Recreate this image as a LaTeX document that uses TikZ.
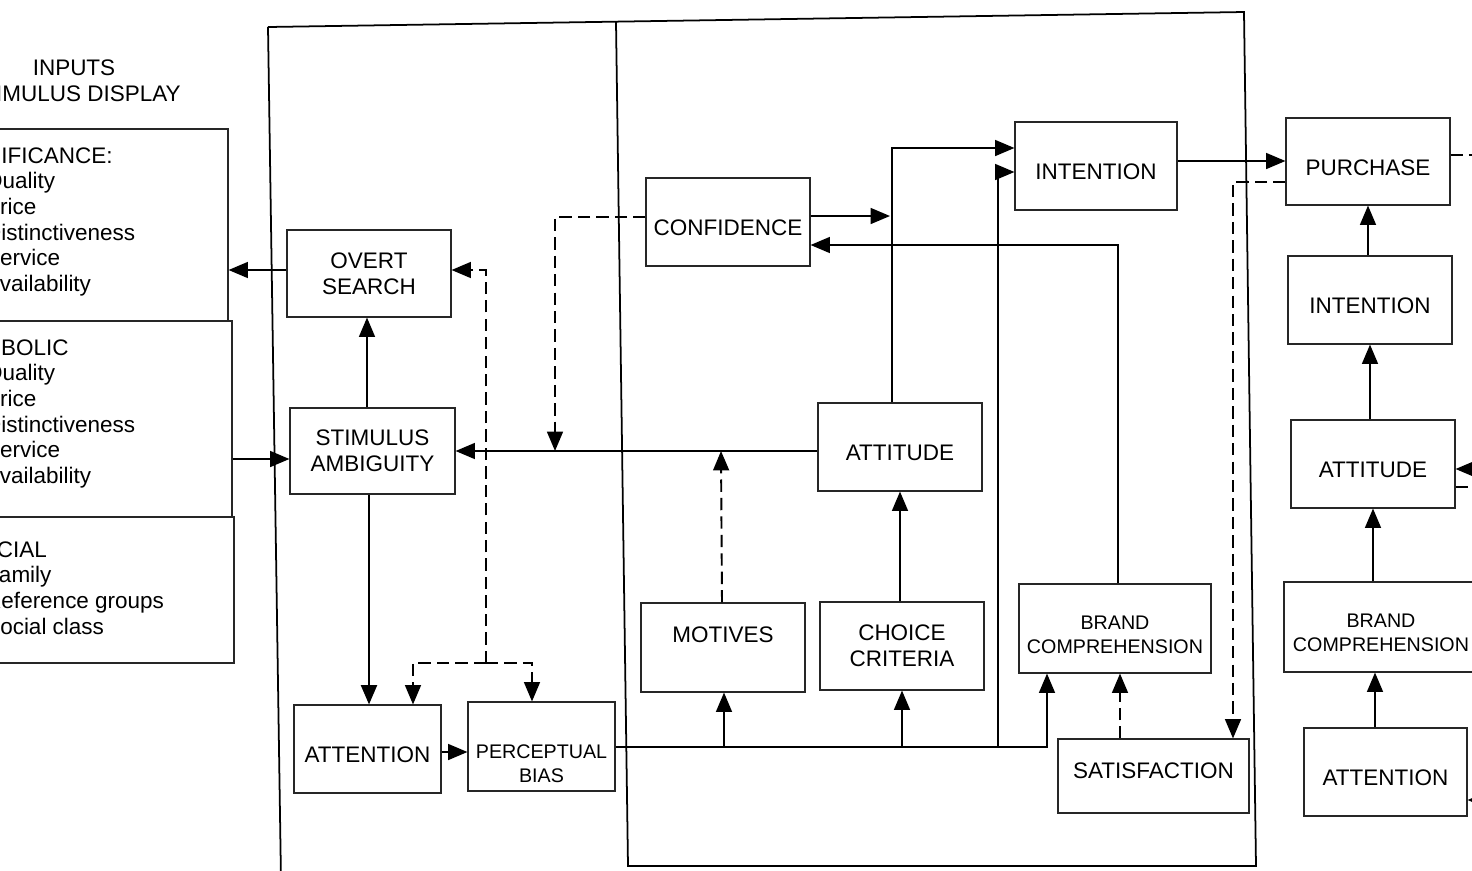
\documentclass[tikz,border=0pt]{standalone}
\usepackage{fontspec}
\setmainfont{Liberation Sans}
\usetikzlibrary{arrows.meta}
\newcommand\bigtxt{\fontsize{12.8}{14.6}\selectfont}
\newcommand\smalltxt{\fontsize{11.2}{13.6}\selectfont}
% struts that set the text a little lower (or higher) inside its box
\newcommand\lowbig{\rule{0pt}{15.5pt}}
\newcommand\lowsmall{\rule{0pt}{14.5pt}}
\newcommand\highbig{\rule[-5.6pt]{0pt}{5.6pt}}

\begin{document}
\begin{tikzpicture}[x=0.02cm, y=-0.02cm,
  box/.style 2 args={draw=black!85, line width=0.6pt, minimum width=#1*0.02cm,
    minimum height=#2*0.02cm, inner sep=0pt, align=center, font=\bigtxt},
  lbl/.style={inner sep=0pt, align=center, font=\bigtxt},
  inlist/.style={inner sep=0pt, align=left, anchor=north west, font=\bigtxt},
  arr/.style={draw, line width=1.1pt, -{Triangle[length=11pt,width=9pt]}},
  darr/.style={arr, dash pattern=on 7pt off 3.5pt},
  dline/.style={draw, line width=1.1pt, dash pattern=on 7pt off 3.5pt},
  frame/.style={draw, line width=1pt},
]
\useasboundingbox (0,0) rectangle (1472,870);
\clip (0,0) rectangle (1472,870);

% outer frames of the model
\draw[frame] (268,27) -- (1244,12) -- (1256,866) -- (628,866) -- (616,22);
\draw[frame] (268,27) -- (281,880);

% input panel
\node[lbl] (inhead) at (74,80.5) {INPUTS\\STIMULUS DISPLAY};
\node[box={400}{192}] (in1) at (28,225) {};
\node[box={400}{196}] (in2) at (32,419) {};
\node[box={400}{146}] (in3) at (34,590) {};
\node[inlist] (sigtxt) at (-54,147) {SIGNIFICANCE:\\\hspace*{22.1pt}Quality\\\hspace*{22.1pt}Price\\
  \hspace*{22.1pt}Distinctiveness\\\hspace*{22.1pt}Service\\\hspace*{22.1pt}Availability};
\node[inlist] (symtxt) at (-48,339) {SYMBOLIC\\\hspace*{18.7pt}Quality\\\hspace*{18.7pt}Price\\
  \hspace*{18.7pt}Distinctiveness\\\hspace*{18.7pt}Service\\\hspace*{18.7pt}Availability};
\node[inlist] (soctxt) at (-36,541) {SOCIAL\\\hspace*{11.9pt}Family\\\hspace*{11.9pt}Reference groups\\
  \hspace*{11.9pt}Social class};

% perceptual constructs
\node[box={164}{87}] (ovs) at (369,273.5) {OVERT\\SEARCH};
\node[box={165}{86}] (amb) at (372.5,451) {STIMULUS\\AMBIGUITY};
\node[box={147}{88}] (att1) at (367.5,749) {\lowbig ATTENTION};
\node[box={147}{89}] (perc) at (541.5,746.5) {};
\node[lbl,font=\smalltxt] (perctxt) at (541.5,763.5) {PERCEPTUAL\\BIAS};

% learning constructs
\node[box={164}{88}] (conf) at (728,222) {\lowbig CONFIDENCE};
\node[box={164}{89}] (mot) at (723,647.5) {};
\node[lbl] (mottxt) at (723,635) {MOTIVES};
\node[box={164}{88}] (cc) at (902,646) {CHOICE\\CRITERIA};
\node[box={164}{88}] (att2) at (900,447) {\lowbig ATTITUDE};
\node[box={162}{88}] (int1) at (1096,166) {\lowbig INTENTION};
\node[box={192}{89},font=\smalltxt] (bc1) at (1115,628.5) {\lowsmall BRAND\\COMPREHENSION};
\node[box={191}{74}] (sat) at (1153.5,776) {\highbig SATISFACTION};

% outputs
\node[box={164}{87}] (pur) at (1368,161.5) {\lowbig PURCHASE};
\node[box={164}{88}] (int2) at (1370,300) {\lowbig INTENTION};
\node[box={164}{88}] (att3) at (1373,464) {\lowbig ATTITUDE};
\node[box={194}{90},font=\smalltxt] (bc2) at (1381,627) {\lowsmall BRAND\\COMPREHENSION};
\node[box={163}{88}] (att4) at (1385.5,772) {\lowbig ATTENTION};

% junction points
\coordinate (dj) at (486,663);
\coordinate (cj) at (555,451);
\coordinate (mj) at (721,451);
\coordinate (ca) at (890,216);
\coordinate (b1) at (724,747);
\coordinate (b2) at (902,747);
\coordinate (b3) at (998,747);
\coordinate (stub1) at (1480,155);
\coordinate (stub2) at (1480,487);
\coordinate (r1) at (1490,469);
\coordinate (r2) at (1490,800);

% perceptual subsystem links
\draw[arr] (ovs.west |- 0,270) -- (in1.east |- 0,270);
\draw[arr] (in2.east |- 0,459) -- (amb.west |- 0,459);
\draw[arr] (amb.north -| 367,0) -- (ovs.south -| 367,0);
\draw[arr, line width=1.5pt] (amb.south -| 369,0) -- (att1.north -| 369,0);
\draw[arr] (att1.east |- 0,752) -- (perc.west |- 0,752);
\draw[darr] (dj) |- (ovs.east |- 0,270);
\draw[darr] (dj) -| (att1.north -| 413,0);
\draw[darr] (dj) -| (perc.north -| 532,0);

% learning subsystem links
\draw[arr] (att2.west |- 0,451) -- (amb.east |- 0,451);
\draw[darr] (conf.west |- 0,217) -| (cj);
\draw[darr] (mot.north -| 722,0) -- (mj);
\draw[arr] (conf.east |- 0,216) -- (ca);
\draw[arr] (bc1.north -| 1118,0) |- (conf.east |- 0,245);
\draw[arr] (att2.north -| 892,0) |- (int1.west |- 0,148);
\draw[arr] (b3) |- (int1.west |- 0,172);
\draw[arr] (perc.east |- 0,747) -| (bc1.south -| 1047,0);
\draw[arr] (b1) -- (mot.south -| 724,0);
\draw[arr] (b2) -- (cc.south -| 902,0);
\draw[arr] (cc.north -| 900,0) -- (att2.south -| 900,0);
\draw[darr] (sat.north -| 1120,0) -- (bc1.south -| 1120,0);

% outputs links
\draw[arr] (int1.east |- 0,161) -- (pur.west |- 0,161);
\draw[darr] (pur.west |- 0,182) -| (sat.north -| 1233,0);
\draw[dline] (pur.east |- 0,155) -- (stub1);
\draw[arr] (int2.north -| 1368,0) -- (pur.south -| 1368,0);
\draw[arr] (att3.north -| 1370,0) -- (int2.south -| 1370,0);
\draw[arr] (bc2.north -| 1373,0) -- (att3.south -| 1373,0);
\draw[arr] (att4.north -| 1375,0) -- (bc2.south -| 1375,0);
\draw[arr] (r1) -- (att3.east |- 0,469);
\draw[dline] (att3.east |- 0,487) -- (stub2);
\draw[arr] (r2) -- (att4.east |- 0,800);
\end{tikzpicture}
\end{document}
